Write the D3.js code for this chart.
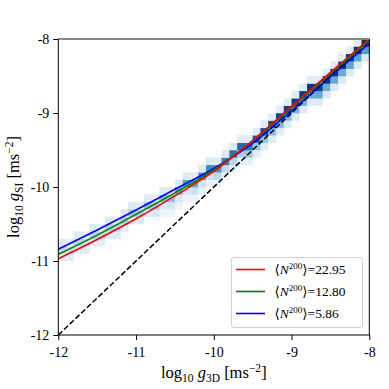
<!DOCTYPE html>
<meta charset="utf-8">
<script src="https://d3js.org/d3.v7.min.js"></script>
<style>
body { margin: 0; background: #fff; }
text { font-family: "Liberation Serif", "DejaVu Serif", serif; fill: #000; }
</style>
<div id="chart"></div>
<script>
// curves (log10 g3D -> log10 gSI)
var curveX = [-12, -11.5, -11, -10.5, -10, -9.5, -9, -8.5, -8];
var redY   = [-10.97, -10.71, -10.43, -10.12, -9.79, -9.37, -8.91, -8.45, -8.00];
var greenY = [-10.91, -10.65, -10.37, -10.08, -9.77, -9.38, -8.93, -8.47, -8.02];
var blueY  = [-10.84, -10.58, -10.31, -10.03, -9.75, -9.41, -8.97, -8.51, -8.06];
var legendLabels = ["22.95", "12.80", "5.86"];

// 2D histogram: left edge of each x bin, lower edge of its peak y bin,
// and relative counts in bins [peak-2, peak-1, peak, peak+1]
var heatX = [-12.0, -11.9, -11.8, -11.7, -11.6, -11.5, -11.4, -11.3, -11.2, -11.1,
             -11.0, -10.9, -10.8, -10.7, -10.6, -10.5, -10.4, -10.3, -10.2, -10.1,
             -10.0, -9.9, -9.8, -9.7, -9.6, -9.5, -9.4, -9.3, -9.2, -9.1,
             -9.0, -8.9, -8.8, -8.7, -8.6, -8.5, -8.4, -8.3, -8.2, -8.1];
var heatPeak = [-10.9, -10.9, -10.8, -10.8, -10.7, -10.7, -10.6, -10.6, -10.5, -10.4,
                -10.4, -10.3, -10.3, -10.2, -10.2, -10.1, -10.0, -10.0, -9.9, -9.8,
                -9.8, -9.7, -9.6, -9.5, -9.5, -9.4, -9.3, -9.2, -9.1, -9.0,
                -8.9, -8.8, -8.7, -8.7, -8.6, -8.5, -8.4, -8.3, -8.2, -8.1];
var heatCounts = [
  [0.00, 0.06, 0.22, 0.10], [0.00, 0.08, 0.18, 0.08], [0.00, 0.06, 0.25, 0.10], [0.00, 0.08, 0.20, 0.08],
  [0.00, 0.06, 0.28, 0.10], [0.00, 0.08, 0.24, 0.08], [0.00, 0.07, 0.30, 0.10], [0.00, 0.09, 0.26, 0.08],
  [0.00, 0.08, 0.32, 0.10], [0.00, 0.07, 0.35, 0.10], [0.00, 0.10, 0.30, 0.08], [0.00, 0.08, 0.38, 0.10],
  [0.00, 0.12, 0.34, 0.08], [0.01, 0.09, 0.42, 0.10], [0.01, 0.14, 0.38, 0.08], [0.01, 0.11, 0.48, 0.10],
  [0.02, 0.13, 0.55, 0.10], [0.02, 0.18, 0.50, 0.08], [0.02, 0.15, 0.60, 0.10], [0.03, 0.18, 0.64, 0.10],
  [0.03, 0.24, 0.60, 0.08], [0.04, 0.22, 0.68, 0.10], [0.05, 0.26, 0.72, 0.10], [0.05, 0.30, 0.76, 0.08],
  [0.06, 0.36, 0.70, 0.08], [0.07, 0.35, 0.82, 0.08], [0.08, 0.38, 0.86, 0.08], [0.08, 0.40, 0.88, 0.08],
  [0.08, 0.42, 0.90, 0.08], [0.09, 0.42, 0.92, 0.08], [0.09, 0.45, 0.94, 0.08], [0.09, 0.45, 0.95, 0.08],
  [0.10, 0.48, 0.96, 0.08], [0.10, 0.50, 0.90, 0.08], [0.10, 0.48, 0.97, 0.08], [0.10, 0.50, 0.98, 0.08],
  [0.10, 0.50, 0.98, 0.08], [0.10, 0.52, 0.99, 0.08], [0.10, 0.52, 1.00, 0.08], [0.10, 0.55, 1.00, 0.08]
];
var tickVals = [-12, -11, -10, -9, -8];

var W = 389, H = 389;
var margin = {top: 39, right: 19.7, bottom: 54, left: 58.3};
var width = W - margin.left - margin.right,
    height = H - margin.top - margin.bottom;

var svg = d3.select("#chart").append("svg")
  .attr("width", W).attr("height", H);
var g = svg.append("g")
  .attr("transform", "translate(" + margin.left + "," + margin.top + ")");

var x = d3.scaleLinear().domain([-12, -8]).range([0, width]);
var y = d3.scaleLinear().domain([-12, -8]).range([height, 0]);

// heatmap cells
var cells = [];
heatX.forEach(function(x0, i) {
  heatCounts[i].forEach(function(c, k) {
    var y0 = heatPeak[i] + (k - 2) * 0.1;
    if (c <= 0 || y0 < -12 || y0 >= -8) return;
    cells.push({x0: x0, y0: y0, c: c});
  });
});
g.selectAll("rect.cell").data(cells).enter().append("rect")
  .attr("class", "cell")
  .attr("x", function(d) { return x(d.x0); })
  .attr("y", function(d) { return y(d.y0 + 0.1); })
  .attr("width", function(d) { return x(d.x0 + 0.1) - x(d.x0) + 0.3; })
  .attr("height", function(d) { return y(d.y0) - y(d.y0 + 0.1) + 0.3; })
  .attr("fill", function(d) { return d3.interpolateBlues(0.04 + d.c * 0.96); });

// one-to-one line
g.append("line")
  .attr("x1", x(-12)).attr("y1", y(-12))
  .attr("x2", x(-8)).attr("y2", y(-8))
  .attr("stroke", "#000").attr("stroke-width", 1.5)
  .attr("stroke-dasharray", "5.5,2.4");

var line = d3.line().curve(d3.curveMonotoneX);
var series = [
  {vals: redY, color: "#ff0000"},
  {vals: greenY, color: "#008000"},
  {vals: blueY, color: "#0000ff"}
];
// draw blue first so red sits on top like the reference
series.slice().reverse().forEach(function(s) {
  g.append("path")
    .attr("d", line(curveX.map(function(v, i) { return [x(v), y(s.vals[i])]; })))
    .attr("fill", "none")
    .attr("stroke", s.color)
    .attr("stroke-width", 1.6);
});

// frame
g.append("rect").attr("width", width).attr("height", height)
  .attr("fill", "none").attr("stroke", "#000").attr("stroke-width", 1);
g.append("line").attr("x1", 0).attr("x2", width).attr("y1", 0).attr("y2", 0)
  .attr("stroke", "#888").attr("stroke-width", 2);

// axes
var fs = "14px";
var xAx = g.append("g").attr("transform", "translate(0," + height + ")")
  .call(d3.axisBottom(x).tickValues(tickVals).tickSize(5).tickFormat(function(d) { return "-" + Math.abs(d); }));
var yAx = g.append("g")
  .call(d3.axisLeft(y).tickValues(tickVals).tickSize(5).tickFormat(function(d) { return "-" + Math.abs(d); }));
[xAx, yAx].forEach(function(a) {
  a.select(".domain").remove();
  a.selectAll("line").attr("stroke", "#000");
  a.selectAll("text").attr("font-family", "Liberation Serif, serif").attr("font-size", fs).attr("fill", "#000");
});
xAx.selectAll("text").attr("dy", null).attr("y", 21.5);
yAx.selectAll("text").attr("dy", "0.33em").attr("x", -9);

// axis labels
function axisLabel(t, sub) {
  t.append("tspan").text("log");
  t.append("tspan").attr("font-size", "11.5px").attr("dy", 3.5).text("10");
  t.append("tspan").attr("dy", -3.5).text(" ");
  t.append("tspan").attr("font-style", "italic").text("g");
  t.append("tspan").attr("font-size", "11.5px").attr("dy", 3.5).text(sub);
  t.append("tspan").attr("dy", -3.5).text("  [ms");
  t.append("tspan").attr("font-size", "11.5px").attr("dy", -6.5).text("\u22122");
  t.append("tspan").attr("dy", 6.5).text("]");
}
axisLabel(svg.append("text")
  .attr("x", margin.left + width / 2).attr("y", 378)
  .attr("text-anchor", "middle").attr("font-size", "16.5px"), "3D");
axisLabel(svg.append("text")
  .attr("transform", "translate(19," + (margin.top + height / 2) + ") rotate(-90)")
  .attr("text-anchor", "middle").attr("font-size", "16.5px"), "SI");

// legend
var lg = svg.append("g").attr("transform", "translate(231.5,257.5)");
lg.append("rect").attr("width", 131).attr("height", 70).attr("rx", 2.5)
  .attr("fill", "#fff").attr("fill-opacity", 0.85)
  .attr("stroke", "#d0d0d0").attr("stroke-width", 1);
series.forEach(function(s, i) {
  var yy = 12 + i * 22;
  lg.append("line").attr("x1", 4.5).attr("x2", 33.5).attr("y1", yy).attr("y2", yy)
    .attr("stroke", s.color).attr("stroke-width", 1.6);
  var t = lg.append("text").attr("x", 43).attr("y", yy + 4.5).attr("font-size", "13.5px");
  t.append("tspan").text("\u27E8");
  t.append("tspan").attr("font-style", "italic").text("N");
  t.append("tspan").attr("font-size", "9px").attr("dy", -5).text("200");
  t.append("tspan").attr("dy", 5).text("\u27E9=" + legendLabels[i]);
});
</script>
